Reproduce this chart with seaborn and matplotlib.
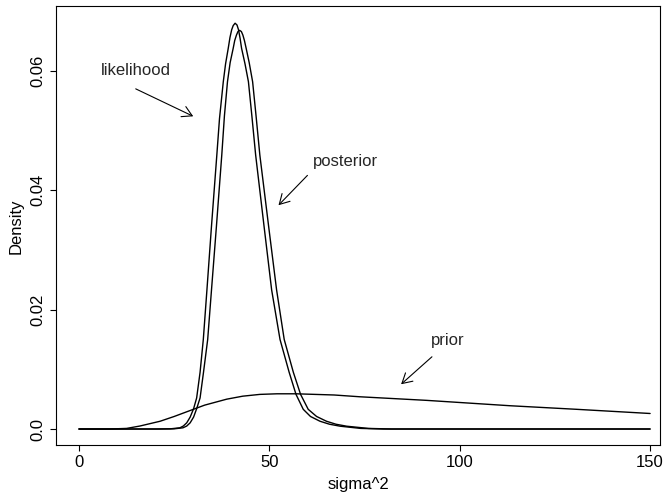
import matplotlib
matplotlib.use("Agg")
import matplotlib.pyplot as plt
import seaborn as sns
import pandas as pd

# sigma^2 grid points and density values for each curve
like_x = [0, 20, 24, 26.5, 27.4, 28.3, 29.2, 30.1, 30.9, 31.8, 32.65, 33.6, 34.8,
          36.2, 36.9, 37.9, 38.5, 39.2, 39.65, 40.1, 40.5, 41.0, 41.5, 41.9, 42.3,
          42.7, 43.6, 44.5, 45.4, 46.4, 48.6, 50.6, 52.8, 55.2, 57.0, 58.9, 60.8,
          63.3, 65.8, 68.6, 74, 80, 150]
like_y = [0, 0, 0.00003, 0.0002, 0.0005, 0.00104, 0.0020, 0.0034, 0.0052, 0.0095,
          0.0150, 0.0233, 0.0340, 0.0459, 0.0520, 0.0582, 0.0612, 0.0638, 0.0656,
          0.0669, 0.0676, 0.0680, 0.0677, 0.0669, 0.0655, 0.0638, 0.0612, 0.0582,
          0.0525, 0.0459, 0.0340, 0.0233, 0.0150, 0.0095, 0.0058, 0.0033, 0.0021,
          0.0013, 0.0008, 0.00047, 0.0001, 0, 0]

post_x = [0, 21, 25, 27.3, 28.3, 29.2, 30.1, 30.9, 31.8, 32.7, 33.8, 34.8, 36.1,
          37.5, 38.2, 39.0, 39.7, 40.5, 40.9, 41.35, 41.75, 42.2, 42.65, 43.05,
          43.45, 43.9, 44.7, 45.6, 46.5, 47.5, 49.8, 51.9, 53.9, 56.3, 58.2, 60.2,
          62.4, 65.0, 67.5, 70.3, 76, 82, 150]
post_y = [0, 0, 0.00003, 0.0002, 0.0005, 0.00104, 0.0020, 0.0034, 0.0052, 0.0095,
          0.0150, 0.0233, 0.0340, 0.0459, 0.0525, 0.0582, 0.0614, 0.0638, 0.0651,
          0.0660, 0.0666, 0.0668, 0.0666, 0.0660, 0.0651, 0.0638, 0.0614, 0.0582,
          0.0525, 0.0459, 0.0340, 0.0233, 0.0150, 0.0095, 0.0058, 0.0033, 0.0021,
          0.0013, 0.0008, 0.00047, 0.0001, 0, 0]

prior_x = [0, 8, 12.5, 16, 21.3, 25, 29.2, 33, 38.8, 43, 47.5, 52, 57, 62, 67,
           73.8, 91.3, 113.2, 130.7, 150]
prior_y = [0, 0, 0.0001, 0.0005, 0.0013, 0.0021, 0.0031, 0.0040, 0.0050, 0.0055,
           0.0058, 0.0059, 0.0059, 0.0058, 0.0057, 0.0054, 0.0048, 0.0039, 0.0033,
           0.0026]

x_ticks = [0, 50, 100, 150]
y_ticks = [0.0, 0.02, 0.04, 0.06]
y_tick_labels = ["0.0", "0.02", "0.04", "0.06"]

sns.set_theme(style="white")
plt.rcParams["font.family"] = ["Liberation Sans", "DejaVu Sans"]
plt.rcParams["font.size"] = 12

fig = plt.figure(figsize=(6.64, 4.98), dpi=100)
ax = fig.add_axes([56 / 664, 53 / 498, 604 / 664, 438.5 / 498])

for xs, ys in [(like_x, like_y), (post_x, post_y), (prior_x, prior_y)]:
    df = pd.DataFrame({"sigma2": xs, "density": ys})
    sns.lineplot(data=df, x="sigma2", y="density", color="black", lw=1.0,
                 estimator=None, sort=False, ax=ax)

ax.set_xlim(-6.04, 152.6)
ax.set_ylim(-0.00268, 0.0708)
ax.set_xticks(x_ticks)
ax.set_xticklabels([str(t) for t in x_ticks])
ax.set_yticks(y_ticks)
ax.set_yticklabels(y_tick_labels, rotation=90, va="center")

for s in ax.spines.values():
    s.set_visible(True)
    s.set_color("black")
    s.set_linewidth(0.8)

ax.tick_params(axis="both", direction="out", length=4, width=0.8, color="black",
               labelsize=12, labelcolor="black", pad=3.5, bottom=True, left=True)

ax.set_xlabel("sigma^2", fontsize=12, color="black")
ax.set_ylabel("Density", fontsize=12, color="black")
ax.xaxis.set_label_coords(0.5, -0.091)
ax.yaxis.set_label_coords(-0.066, 0.5)
ax.xaxis.label.set_va("center")
ax.yaxis.label.set_va("center")

arrow_kw = dict(arrowstyle="->,head_length=0.7,head_width=0.4", color="black",
                lw=0.8, shrinkA=0, shrinkB=0, mutation_scale=10)

ax.text(15, 0.0600, "likelihood", ha="center", va="center", fontsize=12)
ax.annotate("", xy=(30.0, 0.0524), xytext=(14.9, 0.0570), arrowprops=arrow_kw)

ax.text(70, 0.0449, "posterior", ha="center", va="center", fontsize=12)
ax.annotate("", xy=(52.4, 0.0375), xytext=(60.0, 0.0425), arrowprops=arrow_kw)

ax.text(96.8, 0.0148, "prior", ha="center", va="center", fontsize=12)
ax.annotate("", xy=(84.6, 0.0075), xytext=(92.7, 0.0121), arrowprops=arrow_kw)

fig.savefig("out.png", dpi=100, facecolor="white")
